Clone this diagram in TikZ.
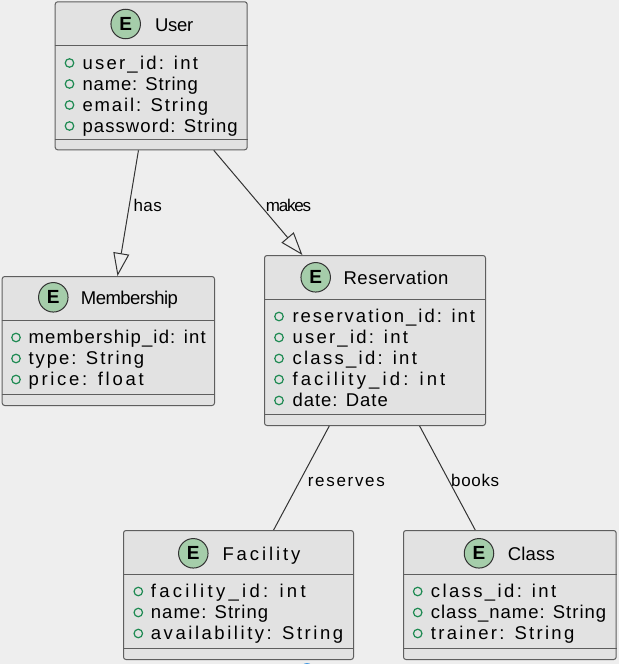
\documentclass[tikz,border=0pt]{standalone}
\usepackage{fontspec}
\setmainfont{Liberation Sans}
\usetikzlibrary{arrows.meta,calc}
\definecolor{bgc}{HTML}{EEEEEE}
\definecolor{boxc}{HTML}{E2E2E2}
\definecolor{brd}{HTML}{5E5E5E}
\definecolor{egreen}{HTML}{A5CDAA}
\definecolor{bul}{HTML}{1E8A52}
\definecolor{edgec}{HTML}{333333}
\definecolor{dotblue}{HTML}{4A9BE0}
\newlength\fitnat
\makeatletter
\newcommand\fitto[3]{\settowidth\fitnat{#3}\pgfmathsetmacro\fitls{((#1)-\fitnat)/((#2)-1)/\f@size*100}\edef\fitdo{\noexpand\addfontfeatures{LetterSpace=\fitls}}\fitdo #3}
\makeatother
\tikzset{
  ebox/.style={draw=brd, fill=boxc, line width=1pt, rounded corners=2.5pt, anchor=north west, inner sep=0pt},
  sepl/.style={draw=brd, line width=1pt},
  ecirc/.style={circle, draw=edgec, fill=egreen, line width=1pt, minimum size=29.5pt, inner sep=0pt, font=\fontsize{19}{19}\selectfont\bfseries},
  ttl/.style={anchor=base west, inner sep=0pt, font=\fontsize{18.5}{21}\selectfont},
  att/.style={anchor=base west, inner sep=0pt, font=\fontsize{18.5}{21}\selectfont},
  bullet/.style={circle, draw=bul, line width=1.2pt, minimum size=8.5pt, inner sep=0pt},
  lbl/.style={anchor=base west, inner sep=0pt, font=\fontsize{17}{20}\selectfont},
  rel/.style={draw=edgec, line width=1pt},
  ext/.style={rel, -{Triangle[open, length=23pt, width=16pt, line width=1pt]}}
}
\begin{document}
\begin{tikzpicture}[x=1pt, y=-1pt]
\fill[bgc] (0,0) rectangle (619,664);
\useasboundingbox (0,0) rectangle (619,664);
\begin{scope}
\clip (0,0) rectangle (619,664);
\fill[dotblue] (307,669) circle (6);
\end{scope}

% ---------- User
\node[ebox, minimum width=192pt, minimum height=148pt] (user) at (54.7,1.3) {};
\draw[sepl] (user.west |- 0,45) -- (user.east |- 0,45);
\draw[sepl] (user.west |- 0,139.3) -- (user.east |- 0,139.3);
\node[ecirc] (userE) at (125.7,24) {E};
\node[ttl] (userT) at (155,31) {\fitto{38}{4}{User}};
\node[bullet] (ub1) at (69.5,63) {};
\node[att] (ua1) at (82.3,69) {\fitto{117}{12}{user\_id: int}};
\node[bullet] (ub2) at (69.5,84) {};
\node[att] (ua2) at (82.3,90) {\fitto{116}{12}{name: String}};
\node[bullet] (ub3) at (69.5,105) {};
\node[att] (ua3) at (82.3,111) {\fitto{127}{13}{email: String}};
\node[bullet] (ub4) at (69.5,126) {};
\node[att] (ua4) at (82.3,132) {\fitto{156}{16}{password: String}};

% ---------- Membership
\node[ebox, minimum width=212.3pt, minimum height=129pt] (mem) at (1.7,276) {};
\draw[sepl] (mem.west |- 0,320.7) -- (mem.east |- 0,320.7);
\draw[sepl] (mem.west |- 0,394) -- (mem.east |- 0,394);
\node[ecirc] (memE) at (53.3,297.3) {E};
\node[ttl] (memT) at (80.7,304.3) {\fitto{97}{10}{Membership}};
\node[bullet] (mb1) at (16,337.5) {};
\node[att] (ma1) at (28.3,343.5) {\fitto{178}{18}{membership\_id: int}};
\node[bullet] (mb2) at (16,358.5) {};
\node[att] (ma2) at (28.3,364.5) {\fitto{117}{12}{type: String}};
\node[bullet] (mb3) at (16,379.5) {};
\node[att] (ma3) at (28.3,385.5) {\fitto{117}{12}{price: float}};

% ---------- Reservation
\node[ebox, minimum width=221pt, minimum height=170pt] (res) at (264,255) {};
\draw[sepl] (res.west |- 0,299.3) -- (res.east |- 0,299.3);
\draw[sepl] (res.west |- 0,414.3) -- (res.east |- 0,414.3);
\node[ecirc] (resE) at (315.7,277.3) {E};
\node[ttl] (resT) at (343.3,284.3) {\fitto{105}{11}{Reservation}};
\node[bullet] (rb1) at (279,316.5) {};
\node[att] (ra1) at (292.3,322.5) {\fitto{184}{19}{reservation\_id: int}};
\node[bullet] (rb2) at (279,337.5) {};
\node[att] (ra2) at (292.3,343.5) {\fitto{117}{12}{user\_id: int}};
\node[bullet] (rb3) at (279,358.5) {};
\node[att] (ra3) at (292.3,364.5) {\fitto{126}{13}{class\_id: int}};
\node[bullet] (rb4) at (279,379.5) {};
\node[att] (ra4) at (292.3,385.5) {\fitto{155}{16}{facility\_id: int}};
\node[bullet] (rb5) at (279,400.5) {};
\node[att] (ra5) at (292.3,406.5) {\fitto{96}{10}{date: Date}};

% ---------- Facility
\node[ebox, minimum width=230pt, minimum height=129pt] (fac) at (123,530) {};
\draw[sepl] (fac.west |- 0,574.3) -- (fac.east |- 0,574.3);
\draw[sepl] (fac.west |- 0,648.3) -- (fac.east |- 0,648.3);
\node[ecirc] (facE) at (193.3,553.3) {E};
\node[ttl] (facT) at (222.3,560.3) {\fitto{78}{8}{Facility}};
\node[bullet] (fb1) at (138.3,591.5) {};
\node[att] (fa1) at (150.7,597.5) {\fitto{157}{16}{facility\_id: int}};
\node[bullet] (fb2) at (138.3,612.5) {};
\node[att] (fa2) at (150.7,618.5) {\fitto{118}{12}{name: String}};
\node[bullet] (fb3) at (138.3,633.5) {};
\node[att] (fa3) at (150.7,639.5) {\fitto{194}{20}{availability: String}};

% ---------- Class
\node[ebox, minimum width=212.7pt, minimum height=129pt] (cls) at (403,530) {};
\draw[sepl] (cls.west |- 0,574.3) -- (cls.east |- 0,574.3);
\draw[sepl] (cls.west |- 0,648.3) -- (cls.east |- 0,648.3);
\node[ecirc] (clsE) at (479,553.3) {E};
\node[ttl] (clsT) at (507.7,560.3) {\fitto{47}{5}{Class}};
\node[bullet] (cb1) at (417.7,591.5) {};
\node[att] (ca1) at (430.7,597.5) {\fitto{127}{13}{class\_id: int}};
\node[bullet] (cb2) at (417.7,612.5) {};
\node[att] (ca2) at (430.7,618.5) {\fitto{176}{18}{class\_name: String}};
\node[bullet] (cb3) at (417.7,633.5) {};
\node[att] (ca3) at (430.7,639.5) {\fitto{145}{15}{trainer: String}};

% ---------- relations
\draw[ext] ($(user.south west)!0.434!(user.south east)$) -- ($(mem.north west)!0.543!(mem.north east)$);
\draw[ext] ($(user.south west)!0.824!(user.south east)$) -- ($(res.north west)!0.173!(res.north east)$);
\draw[rel] ($(res.south west)!0.294!(res.south east)$) -- ($(fac.north west)!0.652!(fac.north east)$);
\draw[rel] ($(res.south west)!0.701!(res.south east)$) -- ($(cls.north west)!0.338!(cls.north east)$);

\node[lbl] (lhas) at (133.3,211) {\fitto{28.3}{3}{has}};
\node[lbl] (lmakes) at (265.7,211) {\fitto{45.3}{5}{makes}};
\node[lbl] (lres) at (307.7,486) {\fitto{77}{8}{reserves}};
\node[lbl] (lbooks) at (451,486) {\fitto{48}{5}{books}};
\end{tikzpicture}
\end{document}
